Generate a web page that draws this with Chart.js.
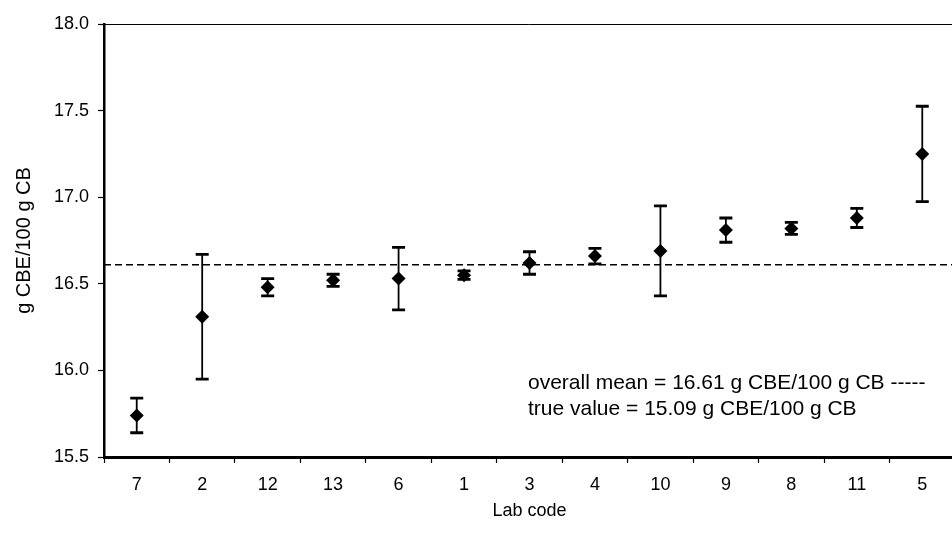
<!DOCTYPE html>
<html>
<head>
<meta charset="utf-8">
<script src="https://cdn.jsdelivr.net/npm/chart.js@4.4.1/dist/chart.umd.min.js"></script>
<style>
  html, body { margin: 0; padding: 0; background: #fff; overflow: hidden; width: 952px; height: 540px; }
  canvas { display: block; }
</style>
</head>
<body>
<canvas id="c" width="962" height="540"></canvas>
<script>
// ---- data ----
const labCodes = ['7', '2', '12', '13', '6', '1', '3', '4', '10', '9', '8', '11', '5'];
const labMeans = [15.74, 16.31, 16.48, 16.52, 16.53, 16.55, 16.62, 16.66, 16.69, 16.81, 16.82, 16.88, 17.25];
const labErrors = [0.10, 0.36, 0.05, 0.035, 0.18, 0.025, 0.065, 0.045, 0.26, 0.07, 0.035, 0.055, 0.275];
const overallMean = 16.61;
const annotationLines = [
  'overall mean = 16.61 g CBE/100 g CB -----',
  'true value = 15.09 g CBE/100 g CB'
];
const yTitle = 'g CBE/100 g CB';
const xTitle = 'Lab code';

const FONT = '"Liberation Sans", Arial, sans-serif';

const decorPlugin = {
  id: 'decor',
  beforeDatasetsDraw(chart) {
    const { ctx, chartArea, scales } = chart;
    const x = scales.x, y = scales.y;
    ctx.save();
    // top frame line
    ctx.strokeStyle = '#000';
    ctx.lineWidth = 1;
    ctx.beginPath();
    ctx.moveTo(chartArea.left, Math.round(chartArea.top) + 0.5);
    ctx.lineTo(chartArea.right, Math.round(chartArea.top) + 0.5);
    ctx.stroke();
    // overall mean dashed line
    const ym = y.getPixelForValue(overallMean);
    ctx.setLineDash([7, 4]);
    ctx.lineWidth = 1.3;
    ctx.beginPath();
    ctx.moveTo(chartArea.left, ym);
    ctx.lineTo(chartArea.right, ym);
    ctx.stroke();
    ctx.setLineDash([]);
    // error bars
    labMeans.forEach((m, i) => {
      const px = x.getPixelForValue(i);
      const yt = y.getPixelForValue(m + labErrors[i]);
      const yb = y.getPixelForValue(m - labErrors[i]);
      ctx.lineWidth = 1.8;
      ctx.beginPath();
      ctx.moveTo(px, yt);
      ctx.lineTo(px, yb);
      ctx.stroke();
      ctx.lineWidth = 2.8;
      ctx.beginPath();
      ctx.moveTo(px - 6.5, yt);
      ctx.lineTo(px + 6.5, yt);
      ctx.moveTo(px - 6.5, yb);
      ctx.lineTo(px + 6.5, yb);
      ctx.stroke();
    });
    // annotation
    ctx.fillStyle = '#000';
    ctx.font = '21px ' + FONT;
    ctx.textBaseline = 'middle';
    ctx.textAlign = 'left';
    ctx.fillText(annotationLines[0], 528, 383);
    ctx.fillText(annotationLines[1], 528, 409);
    ctx.restore();
  }
};

new Chart(document.getElementById('c'), {
  type: 'line',
  data: {
    labels: labCodes,
    datasets: [{
      data: labMeans,
      showLine: false,
      pointStyle: 'rectRot',
      pointRadius: 7,
      pointHoverRadius: 7,
      pointBackgroundColor: '#000',
      pointBorderColor: '#000',
      pointBorderWidth: 0
    }]
  },
  options: {
    responsive: false,
    animation: false,
    events: [],
    layout: { padding: { top: 24, right: 0, bottom: 0, left: 0 } },
    plugins: { legend: { display: false }, tooltip: { enabled: false } },
    scales: {
      x: {
        type: 'category',
        offset: true,
        grid: { display: true, drawOnChartArea: false, drawTicks: true, tickLength: 6, tickWidth: 1.2, tickColor: '#000', offset: true },
        border: { display: true, color: '#000', width: 3 },
        ticks: { color: '#000', font: { family: FONT, size: 18 }, padding: 11, maxRotation: 0, autoSkip: false },
        title: { display: true, text: xTitle, color: '#000', font: { family: FONT, size: 18 }, padding: { top: 0, bottom: 18 } },
        afterFit(scale) { scale.height = 83; }
      },
      y: {
        min: 15.5,
        max: 18,
        grid: { display: true, drawOnChartArea: false, drawTicks: true, tickLength: 6, tickWidth: 1.2, tickColor: '#000' },
        border: { display: true, color: '#000', width: 2.5 },
        ticks: { stepSize: 0.5, color: '#000', font: { family: FONT, size: 18 }, padding: 9, callback: v => Number(v).toFixed(1) },
        title: { display: true, text: yTitle, color: '#000', font: { family: FONT, size: 20 }, padding: { top: 12, bottom: 0 } },
        afterFit(scale) { scale.width = 104; }
      }
    }
  },
  plugins: [decorPlugin]
});
</script>
</body>
</html>
